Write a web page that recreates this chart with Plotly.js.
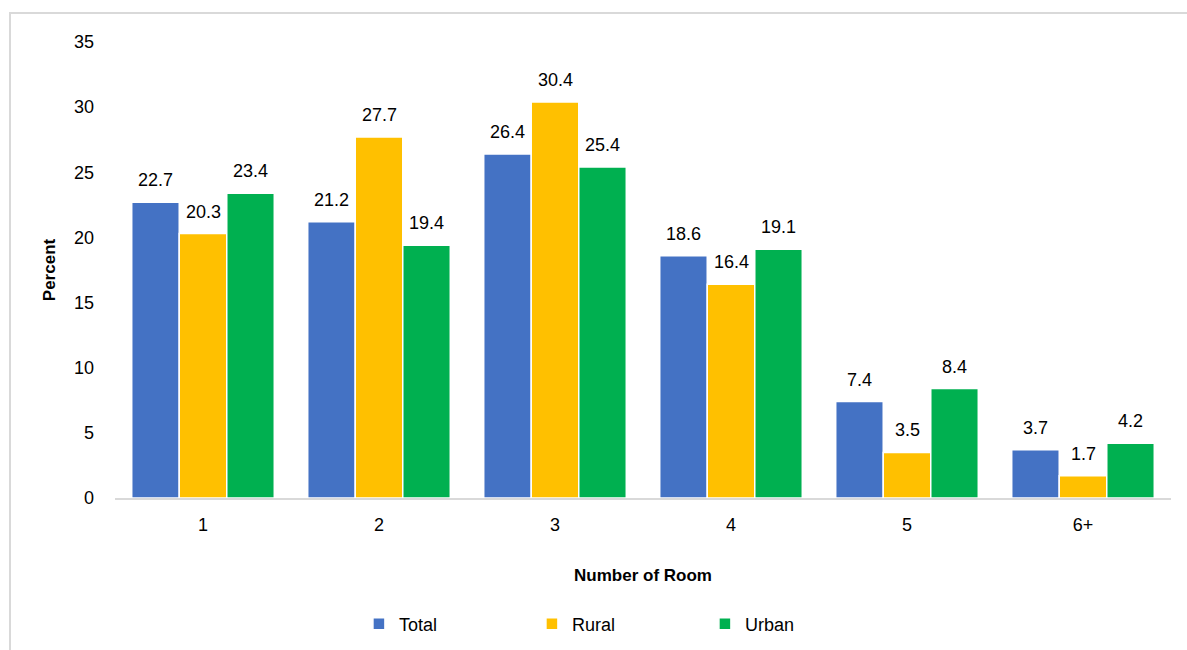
<!DOCTYPE html>
<html>
<head>
<meta charset="utf-8">
<script src="https://cdn.plot.ly/plotly-3.0.1.min.js"></script>
<style>
  html, body { margin: 0; padding: 0; background: #fff; }
  #wrap { position: relative; width: 1187px; height: 650px; overflow: hidden; }
  #frame { position: absolute; left: 9px; top: 12px; width: 1200px; height: 700px;
           border-left: 2px solid #d9d9d9; border-top: 2px solid #d9d9d9; box-sizing: border-box; pointer-events: none; }
  #chart { position: absolute; left: 0; top: 0; width: 1187px; height: 650px; }
</style>
</head>
<body>
<div id="wrap">
  <div id="chart"></div>
  <div id="frame"></div>
</div>
<script>
const categories = ["1", "2", "3", "4", "5", "6+"];
const totalValues = [22.7, 21.2, 26.4, 18.6, 7.4, 3.7];
const ruralValues = [20.3, 27.7, 30.4, 16.4, 3.5, 1.7];
const urbanValues = [23.4, 19.4, 25.4, 19.1, 8.4, 4.2];
const seriesNames = ["Total", "Rural", "Urban"];
const seriesColors = ["#4472C4", "#FFC000", "#00B050"];
const yTickValues = [0, 5, 10, 15, 20, 25, 30, 35];

const FONT = '"Liberation Sans Narrow", "Arial Narrow", "Liberation Sans", Arial, sans-serif';
const BARGAP = 0.19;

const allValues = [totalValues, ruralValues, urbanValues];
const traces = allValues.map((vals, i) => ({
  type: 'bar',
  name: seriesNames[i],
  x: categories,
  y: vals,
  marker: { color: seriesColors[i], line: { color: '#ffffff', width: 1.5 } },
  hoverinfo: 'x+y+name'
}));

// value labels placed above each bar, through the axis scales
const slot = (1 - BARGAP) / allValues.length;
const annotations = [];
allValues.forEach((vals, i) => {
  vals.forEach((v, j) => {
    annotations.push({
      xref: 'x', yref: 'y',
      x: j + (i - (allValues.length - 1) / 2) * slot,
      y: v,
      text: v.toFixed(1),
      showarrow: false,
      xanchor: 'center',
      yanchor: 'bottom',
      yshift: 10,
      font: { family: FONT, size: 18, color: '#000' }
    });
  });
});

const layout = {
  width: 1187,
  height: 650,
  margin: { l: 115, r: 16, t: 42, b: 152 },
  paper_bgcolor: '#ffffff',
  plot_bgcolor: '#ffffff',
  barmode: 'group',
  bargap: BARGAP,
  bargroupgap: 0,
  font: { family: FONT, size: 18, color: '#000' },
  annotations: annotations,
  showlegend: true,
  legend: {
    orientation: 'h',
    x: 0.521, xanchor: 'center', xref: 'container',
    y: 0.04, yanchor: 'middle', yref: 'container',
    entrywidth: 128,
    itemwidth: 30,
    font: { family: FONT, size: 18, color: '#000' },
    traceorder: 'normal'
  },
  xaxis: {
    type: 'category',
    showline: true,
    linecolor: '#d9d9d9',
    linewidth: 2,
    ticks: '',
    showgrid: false,
    zeroline: false,
    ticklabelstandoff: 9,
    tickfont: { family: FONT, size: 18, color: '#000' },
    title: { text: '<b>Number of Room</b>', font: { family: FONT, size: 17, color: '#000' }, standoff: 36 }
  },
  yaxis: {
    range: [0, 35],
    tickvals: yTickValues,
    ticktext: yTickValues.map(String),
    showline: false,
    showgrid: false,
    zeroline: false,
    ticks: '',
    ticklabelstandoff: 20,
    tickfont: { family: FONT, size: 18, color: '#000' },
    title: { text: '<b>Percent</b>', font: { family: FONT, size: 17, color: '#000' }, standoff: 14 }
  }
};

Plotly.newPlot('chart', traces, layout, { displayModeBar: false, staticPlot: true });
</script>
</body>
</html>
